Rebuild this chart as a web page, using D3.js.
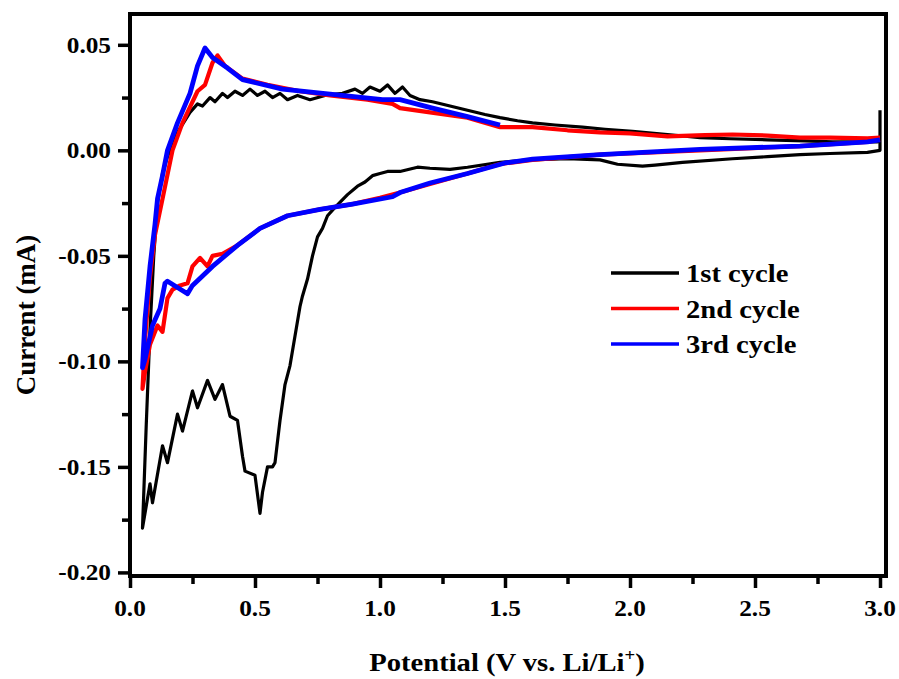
<!DOCTYPE html>
<html>
<head>
<meta charset="utf-8">
<script src="https://cdn.jsdelivr.net/npm/d3@7"></script>
<style>
  body { margin: 0; background: #fff; }
  text { font-family: "Liberation Serif", "Times New Roman", serif; font-weight: bold; fill: #000; }
</style>
</head>
<body>
<div id="chart"></div>
<script>
// cycle 1 (black): potential (V) and current (mA), in scan order
var cycle1V = [3.0, 3.0, 2.95, 2.8, 2.68, 2.55, 2.41, 2.21, 2.1, 2.05, 1.95, 1.88, 1.75, 1.6, 1.48, 1.35, 1.28, 1.2, 1.15, 1.08, 1.03, 1.0, 0.97, 0.94, 0.91, 0.87, 0.82, 0.79, 0.77, 0.75, 0.73, 0.71, 0.69, 0.68, 0.66, 0.64, 0.62, 0.6, 0.58, 0.57, 0.55, 0.53, 0.52, 0.5, 0.46, 0.45, 0.43, 0.4, 0.37, 0.34, 0.31, 0.27, 0.25, 0.21, 0.19, 0.15, 0.13, 0.09, 0.08, 0.05,
  0.065, 0.08, 0.095, 0.11, 0.13, 0.15, 0.19, 0.24, 0.27, 0.29, 0.32, 0.34, 0.37, 0.39, 0.42, 0.45, 0.48, 0.51, 0.54, 0.57, 0.6, 0.63, 0.67, 0.72, 0.78, 0.85, 0.9, 0.93, 0.96, 1.0, 1.03, 1.06, 1.09, 1.12, 1.16, 1.21, 1.28, 1.35, 1.42, 1.48, 1.55, 1.61, 1.7, 1.81, 1.9, 2.01, 2.15, 2.28, 2.4, 2.55, 2.7, 2.81, 2.9, 2.99, 3.0];
var cycle1I = [0.019, 0.0, -0.001, -0.0015, -0.002, -0.003, -0.004, -0.0057, -0.007, -0.0075, -0.0066, -0.0045, -0.004, -0.0045, -0.0057, -0.008, -0.009, -0.0085, -0.008, -0.010, -0.010, -0.011, -0.012, -0.015, -0.017, -0.021, -0.027, -0.031, -0.037, -0.041, -0.050, -0.061, -0.069, -0.074, -0.088, -0.102, -0.111, -0.128, -0.148, -0.150, -0.150, -0.162, -0.172, -0.154, -0.152, -0.145, -0.128, -0.126, -0.111, -0.118, -0.109, -0.122, -0.114, -0.133, -0.125, -0.148, -0.140, -0.167, -0.158, -0.179,
  -0.13, -0.085, -0.05, -0.025, -0.011, -0.003, 0.0085, 0.018, 0.022, 0.021, 0.025, 0.023, 0.027, 0.025, 0.028, 0.026, 0.029, 0.026, 0.028, 0.025, 0.027, 0.024, 0.026, 0.024, 0.026, 0.027, 0.029, 0.027, 0.030, 0.028, 0.031, 0.027, 0.030, 0.026, 0.024, 0.023, 0.021, 0.019, 0.017, 0.0155, 0.014, 0.013, 0.012, 0.011, 0.010, 0.009, 0.0075, 0.006, 0.0055, 0.005, 0.0045, 0.004, 0.004, 0.004, 0.005];

// cycle 2 (red)
var cycle2V = [3.0, 2.95, 2.68, 2.28, 1.88, 1.61, 1.48, 1.35, 1.2, 1.08, 1.0, 0.89, 0.76, 0.63, 0.52, 0.43, 0.37, 0.33, 0.31, 0.28, 0.25, 0.23, 0.2, 0.17, 0.15, 0.13, 0.11, 0.08, 0.06, 0.05,
  0.06, 0.08, 0.1, 0.13, 0.17, 0.21, 0.27, 0.3, 0.33, 0.35, 0.38, 0.45, 0.55, 0.68, 0.8, 0.95, 1.05, 1.08, 1.2, 1.35, 1.48, 1.61, 1.75, 1.88, 2.0, 2.15, 2.3, 2.41, 2.55, 2.68, 2.8, 2.95, 3.0];
var cycle2I = [0.005, 0.004, 0.002, 0.0, -0.002, -0.0045, -0.0065, -0.011, -0.016, -0.020, -0.0225, -0.0255, -0.028, -0.031, -0.037, -0.045, -0.049, -0.050, -0.055, -0.051, -0.055, -0.063, -0.064, -0.066, -0.070, -0.086, -0.083, -0.092, -0.105, -0.113,
  -0.09, -0.06, -0.04, -0.023, 0.0, 0.013, 0.028, 0.031, 0.0415, 0.045, 0.040, 0.034, 0.031, 0.028, 0.026, 0.024, 0.022, 0.020, 0.018, 0.0155, 0.011, 0.011, 0.0095, 0.0085, 0.008, 0.0066, 0.0072, 0.0075, 0.007, 0.006, 0.006, 0.0057, 0.006];

// cycle 3 (blue)
var cycle3V = [3.0, 2.95, 2.68, 2.28, 1.88, 1.61, 1.5, 1.35, 1.2, 1.08, 1.05, 0.89, 0.76, 0.63, 0.52, 0.43, 0.33, 0.25, 0.23, 0.19, 0.15, 0.14, 0.12, 0.09, 0.06, 0.05,
  0.06, 0.08, 0.1, 0.11, 0.13, 0.15, 0.19, 0.24, 0.27, 0.3, 0.33, 0.39, 0.45, 0.61, 0.81, 1.01, 1.08, 1.21, 1.35, 1.48];
var cycle3I = [0.005, 0.004, 0.002, 0.0005, -0.002, -0.0042, -0.006, -0.011, -0.0155, -0.020, -0.022, -0.0255, -0.028, -0.031, -0.037, -0.045, -0.055, -0.064, -0.068, -0.065, -0.062, -0.063, -0.075, -0.083, -0.099, -0.103,
  -0.08, -0.055, -0.035, -0.023, -0.012, 0.0, 0.013, 0.027, 0.040, 0.0485, 0.044, 0.039, 0.0335, 0.029, 0.0265, 0.024, 0.024, 0.020, 0.016, 0.012];

var seriesNames = ["1st cycle", "2nd cycle", "3rd cycle"];
var seriesColors = ["#000000", "#ff0000", "#0000ff"];
var xTicks = [0.0, 0.5, 1.0, 1.5, 2.0, 2.5, 3.0];
var yTicks = [0.05, 0.00, -0.05, -0.10, -0.15, -0.20];

var width = 899, height = 679;
var margin = {top: 14, right: 13, bottom: 103, left: 130};
var w = width - margin.left - margin.right,
    h = height - margin.top - margin.bottom;
var stretch = 1.1; // the original text looks a bit wider than the font

var svg = d3.select("#chart").append("svg")
  .attr("width", width)
  .attr("height", height);

var g = svg.append("g")
  .attr("transform", "translate(" + margin.left + "," + margin.top + ")");

var x = d3.scaleLinear().domain([0, 3.024]).range([0, w]);
var y = d3.scaleLinear().domain([-0.2017, 0.0646]).range([h, 0]);

// curves
var line = d3.line()
  .x(function(d) { return x(d[0]); })
  .y(function(d) { return y(d[1]); });

var allV = [cycle1V, cycle2V, cycle3V];
var allI = [cycle1I, cycle2I, cycle3I];
var widths = [3.2, 4.2, 4.8];
for (var k = 0; k < 3; k++) {
  var pts = allV[k].map(function(v, i) { return [v, allI[k][i]]; });
  g.append("path")
    .attr("d", line(pts))
    .attr("fill", "none")
    .attr("stroke", seriesColors[k])
    .attr("stroke-width", widths[k])
    .attr("stroke-linejoin", "round");
}

// axes
var xAxis = g.append("g")
  .attr("transform", "translate(0," + h + ")")
  .call(d3.axisBottom(x).tickValues(d3.range(0, 3.01, 0.25)).tickSize(0).tickFormat(""));
xAxis.selectAll(".tick line").attr("y2", function(d) { return Math.abs(d * 2 - Math.round(d * 2)) < 1e-6 ? 12 : 8; })
  .attr("stroke-width", 3.5);
xAxis.select(".domain").remove();
xTicks.forEach(function(t) {
  g.append("text")
    .attr("transform", "translate(" + x(t) + "," + (h + 40) + ") scale(" + stretch + ",1)")
    .attr("text-anchor", "middle").style("font-size", "23px")
    .text(t.toFixed(1));
});

var yAxis = g.append("g")
  .call(d3.axisLeft(y).tickValues(d3.range(-0.2, 0.051, 0.025)).tickSize(0).tickFormat(""));
yAxis.selectAll(".tick line").attr("x2", function(d) { return Math.abs(d * 20 - Math.round(d * 20)) < 1e-6 ? -12 : -8; })
  .attr("stroke-width", 3.5);
yAxis.select(".domain").remove();
yTicks.forEach(function(t) {
  g.append("text")
    .attr("transform", "translate(-19," + y(t) + ") scale(" + stretch + ",1)")
    .attr("dy", "0.35em")
    .attr("text-anchor", "end").style("font-size", "23px")
    .text(t.toFixed(2));
});

// frame
g.append("rect")
  .attr("x", 0).attr("y", 0).attr("width", w).attr("height", h)
  .attr("fill", "none").attr("stroke", "#000").attr("stroke-width", 4);

// axis titles
var xt = svg.append("text")
  .attr("transform", "translate(507,671) scale(" + stretch + ",1)")
  .attr("text-anchor", "middle").style("font-size", "26px");
xt.append("tspan").text("Potential (V vs. Li/Li");
xt.append("tspan").attr("dy", -10).style("font-size", "17px").text("+");
xt.append("tspan").attr("dy", 10).text(")");

svg.append("text")
  .attr("transform", "translate(35,315) rotate(-90)")
  .attr("text-anchor", "middle").style("font-size", "27px")
  .text("Current (mA)");

// legend
var legend = svg.append("g").attr("transform", "translate(611,273)");
seriesNames.forEach(function(name, i) {
  legend.append("line")
    .attr("x1", 0).attr("x2", 68)
    .attr("y1", i * 35.5).attr("y2", i * 35.5)
    .attr("stroke", seriesColors[i]).attr("stroke-width", 3.5);
  legend.append("text")
    .attr("transform", "translate(75," + (i * 35.5) + ") scale(" + stretch + ",1)")
    .attr("dy", "0.35em")
    .style("font-size", "26px")
    .text(name);
});
</script>
</body>
</html>
